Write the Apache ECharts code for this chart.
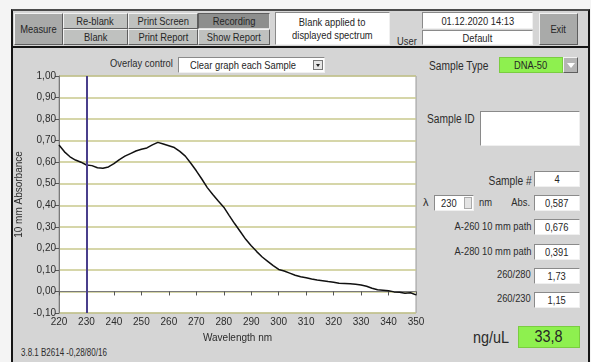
<!DOCTYPE html>
<html>
<head>
<meta charset="utf-8">
<title>Spectrum</title>
<script src="https://cdn.jsdelivr.net/npm/echarts@6/dist/echarts.min.js"></script>
<style>
  html, body { margin: 0; padding: 0; background: #f4f4f4; }
  body { width: 591px; height: 362px; overflow: hidden; position: relative;
         font-family: "Liberation Sans", Arial, sans-serif;
         font-size: 11px; color: #2c2c2c; }
  .abs { position: absolute; box-sizing: border-box; }
  .btn { position: absolute; box-sizing: border-box; background: #bfc1bf;
         border: 1px solid; border-color: #f2f2f2 #5e5e5e #5e5e5e #f2f2f2;
         display: flex; align-items: center; justify-content: center; color: #262626; }
  .btn.dark { background: #a9aaa9; }
  .btn.pressed { background: #8d8e8d; border-color: #5e5e5e #e0e0e0 #e0e0e0 #5e5e5e; }
  .box { position: absolute; box-sizing: border-box; background: #fff;
         border: 1px solid; border-color: #8a8a8a #f0f0f0 #f0f0f0 #8a8a8a;
         display: flex; align-items: center; justify-content: center; color: #262626; }
  .lbl { position: absolute; white-space: nowrap; line-height: 1; color: #2c2c2c; }
  /* condensed text, like the narrow system UI font */
  .s  { display: inline-block; white-space: nowrap; transform: scaleX(0.85); transform-origin: center center; }
  .sl { display: inline-block; white-space: nowrap; transform: scaleX(0.85); transform-origin: left center; }
  .sr { display: inline-block; white-space: nowrap; transform: scaleX(0.85); transform-origin: right center; }
  .green { background: #8ef04f; }
  #chart { position: absolute; left: 0; top: 0; width: 591px; height: 362px; }
</style>
</head>
<body>
<!-- application frame -->
<div class="abs" style="left:11px;top:9px;width:579px;height:360px;background:#d5d5d5;border:2px solid #151515;border-top-color:#4a4a4a;"></div>
<div class="abs" style="left:13px;top:46px;width:575px;height:2px;background:#151515;"></div>

<!-- toolbar -->
<div class="btn dark" style="left:14px;top:13px;width:49px;height:32px;"><span class="s">Measure</span></div>
<div class="btn" style="left:63px;top:13px;width:65px;height:16px;"><span class="s">Re-blank</span></div>
<div class="btn" style="left:63px;top:29px;width:65px;height:16px;"><span class="s">Blank</span></div>
<div class="btn" style="left:128px;top:13px;width:70px;height:16px;"><span class="s">Print Screen</span></div>
<div class="btn" style="left:128px;top:29px;width:70px;height:16px;"><span class="s">Print Report</span></div>
<div class="btn pressed" style="left:198px;top:13px;width:72px;height:16px;"><span class="s">Recording</span></div>
<div class="btn" style="left:198px;top:29px;width:72px;height:16px;"><span class="s">Show Report</span></div>
<div class="box" style="left:275px;top:12px;width:115px;height:33px;flex-direction:column;line-height:13px;">
  <span class="s">Blank applied to</span><span class="s">displayed spectrum</span>
</div>
<div class="lbl" style="left:397px;top:36px;"><span class="sl">User</span></div>
<div class="box" style="left:422px;top:12px;width:111px;height:17px;"><span class="s">01.12.2020 14:13</span></div>
<div class="box" style="left:422px;top:30px;width:111px;height:15px;"><span class="s">Default</span></div>
<div class="btn dark" style="left:539px;top:13px;width:39px;height:32px;"><span class="s">Exit</span></div>

<!-- overlay control -->
<div class="lbl" style="left:110px;top:58px;"><span class="sl">Overlay control</span></div>
<div class="box" style="left:178px;top:57px;width:147px;height:16px;justify-content:flex-start;padding-left:11px;"><span class="sl">Clear graph each Sample</span></div>
<div class="abs" style="left:313px;top:60px;width:10px;height:10px;background:#e6e6e6;border:1px solid #777;"></div>
<div class="abs" style="left:316px;top:64px;width:0;height:0;border-left:2px solid transparent;border-right:2px solid transparent;border-top:3px solid #222;"></div>

<!-- sample panel -->
<div class="lbl" style="left:429px;top:60px;font-size:12px;"><span class="sl">Sample Type</span></div>
<div class="box green" style="left:499px;top:57px;width:64px;height:16px;border-color:#7acd40;"><span class="s">DNA-50</span></div>
<div class="btn" style="left:563px;top:57px;width:15px;height:16px;background:#b5b5b5;">
  <div style="width:0;height:0;border-left:4px solid transparent;border-right:4px solid transparent;border-top:5px solid #fff;"></div>
</div>

<div class="lbl" style="left:427px;top:113px;font-size:12px;"><span class="sl">Sample ID</span></div>
<div class="box" style="left:480px;top:111px;width:100px;height:35px;"></div>

<div class="lbl" style="right:59px;top:175px;font-size:12px;"><span class="sr">Sample #</span></div>
<div class="box" style="left:534px;top:171px;width:46px;height:16px;"><span class="s">4</span></div>

<div class="lbl" style="left:423px;top:197px;">λ</div>
<div class="box" style="left:434px;top:195px;width:40px;height:16px;justify-content:flex-start;padding-left:6px;"><span class="sl">230</span></div>
<div class="abs" style="left:464px;top:197px;width:8px;height:12px;background:#e4e4e4;border:1px solid #aaa;"></div>
<div class="lbl" style="left:479px;top:197px;"><span class="sl">nm</span></div>
<div class="lbl" style="right:61px;top:197px;"><span class="sr">Abs.</span></div>
<div class="box" style="left:534px;top:195px;width:46px;height:16px;"><span class="s">0,587</span></div>

<div class="lbl" style="right:60px;top:221px;"><span class="sr">A-260 10 mm path</span></div>
<div class="box" style="left:534px;top:219px;width:46px;height:16px;"><span class="s">0,676</span></div>
<div class="lbl" style="right:60px;top:246px;"><span class="sr">A-280 10 mm path</span></div>
<div class="box" style="left:534px;top:244px;width:46px;height:16px;"><span class="s">0,391</span></div>
<div class="lbl" style="right:60px;top:269px;"><span class="sr">260/280</span></div>
<div class="box" style="left:534px;top:268px;width:46px;height:16px;"><span class="s">1,73</span></div>
<div class="lbl" style="right:60px;top:293px;"><span class="sr">260/230</span></div>
<div class="box" style="left:534px;top:292px;width:46px;height:16px;"><span class="s">1,15</span></div>

<div class="lbl" style="left:473px;top:329px;font-size:17px;"><span class="sl">ng/uL</span></div>
<div class="box green" style="left:518px;top:326px;width:62px;height:22px;font-size:17px;border-color:#7acd40;"><span class="s">33,8</span></div>

<div class="lbl" style="left:21px;top:348px;font-size:10px;"><span class="sl" style="transform:scaleX(0.8);">3.8.1 B2614 -0,28/80/16</span></div>

<div id="chart"></div>

<script>
// Wavelength (nm) and measured absorbance, 10 mm path equivalent
const wavelengths = [
  220, 222, 224, 226, 228, 230, 232, 234, 236, 238,
  240, 242, 244, 246, 248, 250, 252, 254, 256, 258,
  260, 262, 264, 266, 268, 270, 272, 274, 276, 278,
  280, 282, 284, 286, 288, 290, 292, 294, 296, 298,
  300, 302, 304, 306, 308, 310, 312, 314, 316, 318,
  320, 322, 324, 326, 328, 330, 332, 334, 336, 338,
  340, 342, 344, 346, 348, 350
];
const absorbance = [
  0.680, 0.648, 0.625, 0.610, 0.600, 0.587, 0.584, 0.574, 0.572, 0.578,
  0.593, 0.612, 0.628, 0.640, 0.652, 0.660, 0.666, 0.680, 0.692, 0.684,
  0.676, 0.668, 0.650, 0.628, 0.595, 0.560, 0.522, 0.482, 0.450, 0.420,
  0.391, 0.352, 0.314, 0.278, 0.242, 0.212, 0.185, 0.160, 0.140, 0.120,
  0.102, 0.095, 0.085, 0.075, 0.068, 0.064, 0.058, 0.053, 0.050, 0.046,
  0.043, 0.038, 0.037, 0.036, 0.033, 0.030, 0.024, 0.015, 0.008, 0.006,
  0.003, -0.002, -0.004, -0.008, -0.006, -0.016
];
// Cursor wavelength marker
const cursorWavelength = [230];

// Axis ranges
const xRange = [220, 350];
const yRange = [-0.10, 1.00];

const FONT = '"Liberation Sans", Arial, sans-serif';
const TEXT = '#2c2c2c';
const gridOlive = '#c8c88c';
const commaFmt = v => v.toFixed(2).replace('.', ',');

const chart = echarts.init(document.getElementById('chart'), null, { renderer: 'canvas' });
chart.setOption({
  animation: false,
  backgroundColor: 'transparent',
  grid: {
    left: 59, top: 76, width: 357, height: 237,
    show: true, backgroundColor: '#ffffff', borderColor: '#9a9a9a', borderWidth: 1
  },
  xAxis: {
    type: 'value', min: xRange[0], max: xRange[1], interval: 10,
    name: 'Wavelength nm', nameLocation: 'middle', nameGap: 20,
    nameTextStyle: { fontFamily: FONT, fontSize: 10, color: TEXT },
    axisLine: { show: true, lineStyle: { color: '#7a7a7a', width: 1 } },
    axisTick: { show: true, length: 4, lineStyle: { color: '#555' } },
    axisLabel: { fontFamily: FONT, fontSize: 10, color: TEXT, margin: 4 },
    splitLine: { show: false }
  },
  yAxis: {
    type: 'value', min: yRange[0], max: yRange[1], interval: 0.1,
    name: '10 mm Absorbance', nameLocation: 'middle', nameGap: 35, nameRotate: 90,
    nameMoveOverlap: false,
    nameTextStyle: { fontFamily: FONT, fontSize: 10, color: TEXT },
    axisLine: { show: true, lineStyle: { color: '#7a7a7a', width: 1 } },
    axisTick: { show: true, length: 4, lineStyle: { color: '#555' } },
    axisLabel: { fontFamily: FONT, fontSize: 10, color: TEXT, margin: 3, formatter: commaFmt },
    splitLine: { show: true, lineStyle: { color: gridOlive, width: 1.6 } }
  },
  series: [{
    type: 'line',
    data: wavelengths.map((w, i) => [w, absorbance[i]]),
    showSymbol: false,
    lineStyle: { color: '#111111', width: 1.5 },
    silent: true,
    z: 3,
    markLine: {
      silent: true, symbol: 'none', label: { show: false },
      lineStyle: { color: '#4a3f8c', width: 2, type: 'solid' },
      data: cursorWavelength.map(x => ({ xAxis: x }))
    }
  }]
});
</script>
</body>
</html>
